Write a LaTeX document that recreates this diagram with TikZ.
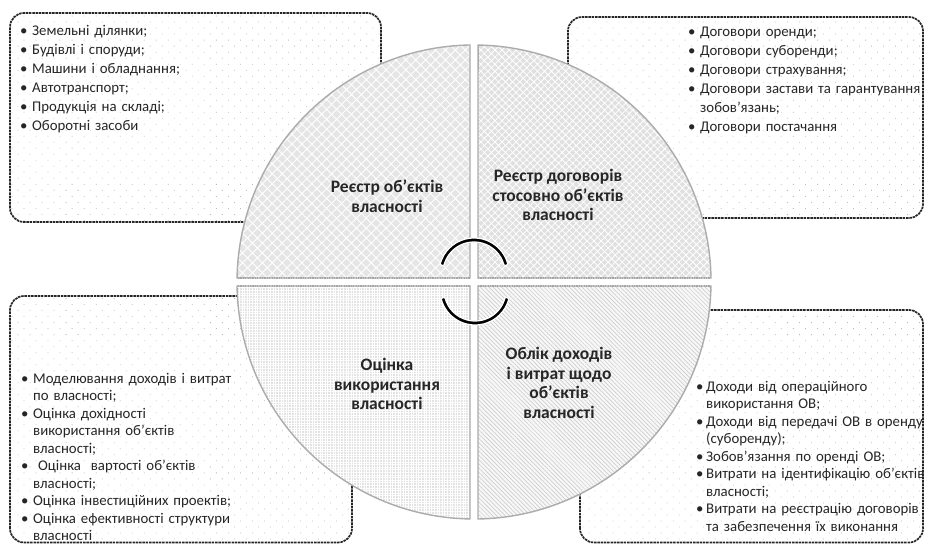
\documentclass[tikz,border=0pt]{standalone}
\usepackage{fontspec}
\setmainfont{Carlito}
\usetikzlibrary{patterns.meta,calc}
\newlength\bhang
\setlength\bhang{12pt}
\newcommand{\bitem}[1]{\hangindent=\bhang\hangafter=1\noindent\makebox[\bhang][l]{\textbullet}#1\par}
\tikzset{
  infobox/.style={rounded corners=14pt, draw=black!85, line width=1.7pt,
    dash pattern=on 2.5pt off 0.8pt, preaction={fill=white},
    pattern={Dots[radius=0.55pt,distance=8.5pt,angle=45]}, pattern color=gray!55},
  listtop/.style={anchor=base west, text width=280pt, align=left, inner sep=0pt,
    font=\fontsize{14.8}{19}\selectfont, text=black!85},
  listbot/.style={anchor=base west, text width=280pt, align=left, inner sep=0pt,
    font=\fontsize{14.8}{17.5}\selectfont, text=black!85},
  quad/.style={draw=gray!65, line width=1.4pt},
  qlabel/.style={align=center, inner sep=0pt, font=\bfseries\fontsize{17.5}{19.5}\selectfont, text=black!85},
  cyclearrow/.style={fill=black, draw=white, line width=1.2pt},
  gapedge/.style={draw=gray!70, line width=1.2pt, dash pattern=on 1.2pt off 1.2pt},
}
\begin{document}
\begin{tikzpicture}[x=1pt,y=1pt]
\useasboundingbox (0,0) rectangle (925,545);
% boxes
\path[infobox] (10,323) rectangle (381,532);
\path[infobox] (568,327) rectangle (923,528);
\path[infobox] (10,2.5) rectangle (352,249);
\path[infobox] (580,2.5) rectangle (923,235);
% quadrants
\path[quad, preaction={fill=gray!20}, pattern={Hatch[angle=45,distance=7pt,line width=0.9pt]}, pattern color=white]
  (470,267) -- (470,500) arc[start angle=90.97, end angle=179.03, radius=237pt] -- cycle;
\path[quad, preaction={fill=gray!24}, pattern={Hatch[angle=45,distance=5pt,line width=0.8pt]}, pattern color=white]
  (478,267) -- (711,267) arc[start angle=0.97, end angle=89.03, radius=237pt] -- cycle;
\path[quad, preaction={fill=gray!22}, pattern={Hatch[angle=0,distance=2.6pt,line width=0.5pt]}, pattern color=white]
  (470,259) -- (237,259) arc[start angle=180.97, end angle=269.03, radius=237pt] -- cycle;
\path[quad, preaction={fill=gray!6}, pattern={Lines[angle=-45,distance=3pt,line width=0.5pt]}, pattern color=gray!45]
  (478,259) -- (478,26) arc[start angle=270.97, end angle=359.03, radius=237pt] -- cycle;
% dotted edges along the horizontal gap
\path[gapedge] (238,267) -- (470,267);
\path[gapedge] (478,267) -- (710,267);
\path[gapedge] (238,259) -- (470,259);
\path[gapedge] (478,259) -- (710,259);
% cycle arrows
\coordinate (ta) at (474,272);
\coordinate (ba) at (475,255);
\path[cyclearrow] ($(ta)+(15:35)$) arc[start angle=15, end angle=165, radius=35pt]
  -- ($(ta)+(167:33)$) -- ($(ta)+(165:31)$) arc[start angle=165, end angle=15, radius=31pt]
  -- ($(ta)+(13:33)$) -- cycle;
\path[cyclearrow] ($(ba)+(195:35)$) arc[start angle=195, end angle=345, radius=35pt]
  -- ($(ba)+(347:33)$) -- ($(ba)+(345:31)$) arc[start angle=345, end angle=195, radius=31pt]
  -- ($(ba)+(193:33)$) -- cycle;
% quadrant labels
\node[qlabel] (q1) at (387,349) {Реєстр об'єктів\\власності};
\node[qlabel] (q2) at (558,350) {Реєстр договорів\\стосовно об'єктів\\власності};
\node[qlabel] (q3) at (387,161) {Оцінка\\використання\\власності};
\node[qlabel] (q4) at (559,162) {Облік доходів\\і витрат щодо\\об'єктів\\власності};
% lists
\node[listtop] (l1) at (20,509.5) {%
\bitem{Земельні ділянки;}%
\bitem{Будівлі і споруди;}%
\bitem{Машини і обладнання;}%
\bitem{Автотранспорт;}%
\bitem{Продукція на складі;}%
\bitem{Оборотні засоби}};
\node[listtop] (l2) at (688,508.5) {%
\bitem{Договори оренди;}%
\bitem{Договори суборенди;}%
\bitem{Договори страхування;}%
\bitem{Договори застави та гарантування\newline зобов'язань;}%
\bitem{Договори постачання}};
\node[listbot] (l3) at (21,161.5) {%
\bitem{Моделювання доходів і витрат\newline по власності;}%
\bitem{Оцінка дохідності\newline використання об'єктів\newline власності;}%
\bitem{\ Оцінка\ \ вартості об'єктів\newline власності;}%
\bitem{Оцінка інвестиційних проектів;}%
\bitem{Оцінка ефективності структури\newline власності}};
\node[listbot] (l4) at (696,153.5) {\setlength\bhang{10pt}%
\bitem{Доходи від операційного\newline використання ОВ;}%
\bitem{Доходи від передачі ОВ в оренду\newline (суборенду);}%
\bitem{Зобов'язання по оренді ОВ;}%
\bitem{Витрати на ідентифікацію об'єктів\newline власності;}%
\bitem{Витрати на реєстрацію договорів\newline та забезпечення їх виконання}};
\end{tikzpicture}
\end{document}
